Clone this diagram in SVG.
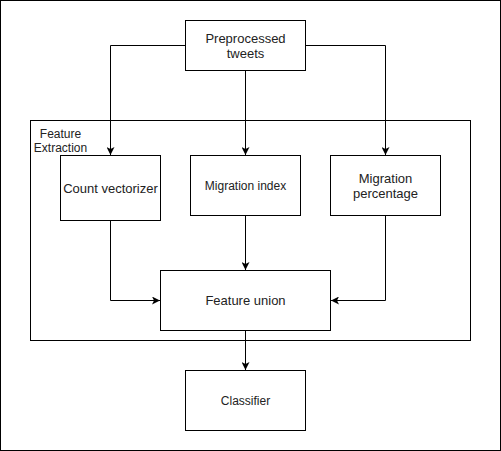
<svg xmlns="http://www.w3.org/2000/svg" width="501" height="451" viewBox="0 0 501 451">
<defs>
<marker id="arr" markerWidth="8" markerHeight="8" viewBox="0 0 8 8" refX="8" refY="4" orient="auto" markerUnits="userSpaceOnUse">
<path d="M0,0 L8,4 L0,8 L2,4 Z" fill="#000"/>
</marker>
</defs>
<style>
.box{fill:#fff;stroke:#000;stroke-width:1}
.t{font-family:"Liberation Sans",Arial,sans-serif;font-size:12px;fill:#222;text-anchor:middle;dominant-baseline:central}
.l{font-size:13px}
.c{fill:none;stroke:#000;stroke-width:1;marker-end:url(#arr)}
</style>
<rect x="0.5" y="0.5" width="500" height="450" fill="#fff" stroke="#000"/>
<g id="feature-extraction">
<rect class="box" x="30.5" y="120.5" width="440" height="220"/>
<text class="t" x="60.5" y="133.5">Feature</text>
<text class="t" x="60.5" y="147.5">Extraction</text>
</g>
<g id="preprocessed-tweets">
<rect class="box" x="185.5" y="20.5" width="120" height="50"/>
<text class="t l" x="245.5" y="38.5">Preprocessed</text>
<text class="t l" x="245.5" y="53.5">tweets</text>
</g>
<g id="count-vectorizer">
<rect class="box" x="60.5" y="155.5" width="100" height="65"/>
<text class="t l" x="110.5" y="188">Count vectorizer</text>
</g>
<g id="migration-index">
<rect class="box" x="190.5" y="155.5" width="110" height="60"/>
<text class="t" x="245.5" y="185.5">Migration index</text>
</g>
<g id="migration-percentage">
<rect class="box" x="330.5" y="155.5" width="110" height="60"/>
<text class="t l" x="385.5" y="178.5">Migration</text>
<text class="t l" x="385.5" y="193.5">percentage</text>
</g>
<g id="feature-union">
<rect class="box" x="160.5" y="270.5" width="170" height="60"/>
<text class="t l" x="245.5" y="300.5">Feature union</text>
</g>
<g id="classifier">
<rect class="box" x="185.5" y="370.5" width="120" height="60"/>
<text class="t" x="245.5" y="400.5">Classifier</text>
</g>
<g id="connectors">
<path class="c" d="M185.5,45.5 H110.5 V155"/>
<path class="c" d="M245.5,70.5 V155"/>
<path class="c" d="M305.5,45.5 H385.5 V155"/>
<path class="c" d="M110.5,220.5 V300.5 H160"/>
<path class="c" d="M245.5,215.5 V270"/>
<path class="c" d="M385.5,215.5 V300.5 H331"/>
<path class="c" d="M245.5,330.5 V370"/>
</g>
</svg>
